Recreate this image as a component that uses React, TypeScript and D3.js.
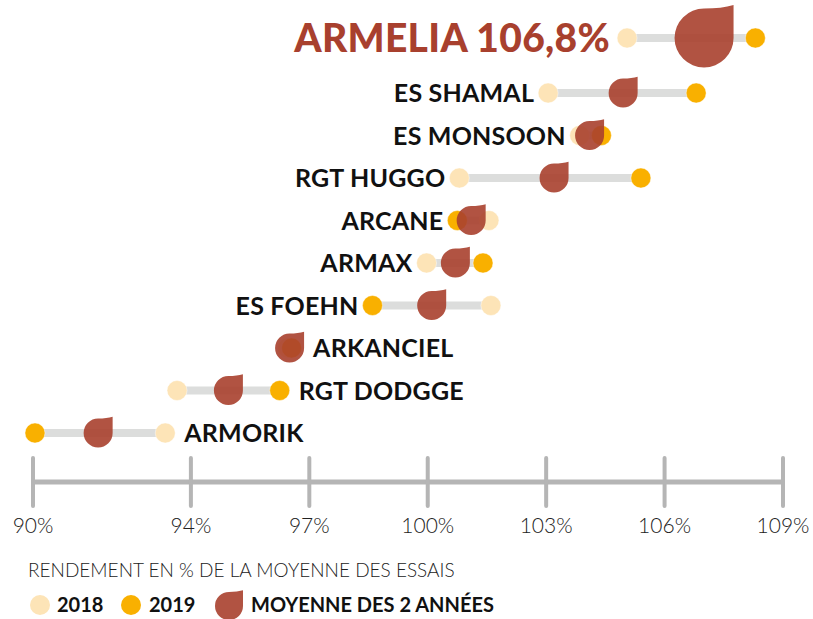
import React, { useEffect } from "react";
import * as d3 from "d3";

// varieties, top to bottom
const varieties = ["ARMELIA", "ES SHAMAL", "ES MONSOON", "RGT HUGGO", "ARCANE", "ARMAX", "ES FOEHN", "ARKANCIEL", "RGT DODGGE", "ARMORIK"];
const values2018 = [105.05, 103.05, 103.85, 100.8, 101.55, 99.97, 101.6, 96.45, 93.65, 93.35];
const values2019 = [108.3, 106.8, 104.4, 105.4, 100.75, 101.4, 98.6, 96.55, 96.25, 90.05];
const meanValues = [107.0, 104.95, 104.1, 103.2, 101.1, 100.7, 100.1, 96.5, 94.95, 91.65];
const labelRight = [false, false, false, false, false, false, false, true, true, true];
const highlightValue = "106,8%";
const tickValues = [90, 94, 97, 100, 103, 106, 109];

const W = 813;
const H = 619;
const C2018 = "#fde4b7";
const C2019 = "#f9b000";
const CMEAN = "#a8402e";
const FONT = "Lato, 'Open Sans', sans-serif";

// leaf / drop: round everywhere except the sharp top-right corner
const dropPath = (cx: number, cy: number, r: number) => {
  const p = d3.path();
  p.moveTo(cx - r, cy);
  p.arc(cx, cy, r, Math.PI, Math.PI * 1.5);
  p.quadraticCurveTo(cx + r * 0.6, cy - r, cx + r, cy - r * 1.12);
  p.lineTo(cx + r, cy);
  p.arc(cx, cy, r, 0, Math.PI);
  p.closePath();
  return p.toString();
};

export default function App() {
  useEffect(() => {
    document.body.style.margin = "0";
  }, []);

  const x = d3.scaleLinear().domain([90, 109]).range([33, 783]);
  const yRest = d3.scalePoint<string>().domain(varieties.slice(1)).range([93, 433]);
  const y = (name: string) => (name === varieties[0] ? 38 : (yRest(name) as number));

  const rows = varieties.map((name, i) => ({
    name,
    v18: values2018[i],
    v19: values2019[i],
    mean: meanValues[i],
    right: labelRight[i],
    top: i === 0,
  }));

  const axisY = 482;

  return (
    <svg width={W} height={H} style={{ display: "block", background: "#fff" }}>
      {rows.map((d) => {
        const cy = y(d.name);
        const r = d.top ? 29.5 : 14.5;
        const leftEdge = Math.min(x(d.v18) - 10, x(d.v19) - 10, x(d.mean) - r);
        const rightEdge = Math.max(x(d.v18) + 10, x(d.v19) + 10, x(d.mean) + r);
        return (
          <g key={d.name}>
            <line x1={x(Math.min(d.v18, d.v19))} x2={x(Math.max(d.v18, d.v19))} y1={cy} y2={cy}
              stroke="#dcdddc" strokeWidth={8} />
            <circle cx={x(d.v18)} cy={cy} r={10} fill={C2018} stroke="#fff" strokeOpacity={0.6} strokeWidth={0.7} />
            <circle cx={x(d.v19)} cy={cy} r={10} fill={C2019} stroke="#fff" strokeOpacity={0.6} strokeWidth={0.7} />
            <path d={dropPath(x(d.mean), cy, r)} fill={CMEAN} fillOpacity={0.9} />
            {d.top ? (
              <text x={leftEdge - 7} y={cy} dy="0.36em" textAnchor="end" fontFamily={FONT}
                fontWeight={900} fontSize={39} fill={CMEAN} letterSpacing={0.3}>
                {d.name} {highlightValue}
              </text>
            ) : (
              <text x={d.right ? rightEdge + 9 : leftEdge - 4} y={cy} dy="0.36em"
                textAnchor={d.right ? "start" : "end"} fontFamily={FONT} fontWeight={700}
                fontSize={25} fill="#111" letterSpacing={0.2}>
                {d.name}
              </text>
            )}
          </g>
        );
      })}

      {/* axis */}
      <line x1={x(90)} x2={x(109)} y1={axisY} y2={axisY} stroke="#b5b5b5" strokeWidth={5} />
      {tickValues.map((t) => (
        <g key={t}>
          <line x1={x(t)} x2={x(t)} y1={axisY - 24} y2={axisY + 24} stroke="#b5b5b5" strokeWidth={4} strokeLinecap="round" />
          <text x={x(t)} y={533} textAnchor="middle" fontFamily={FONT} fontWeight={300} fontSize={21} fill="#222">
            {t}%
          </text>
        </g>
      ))}

      {/* legend */}
      <text x={28} y={577} fontFamily={FONT} fontWeight={300} fontSize={19} fill="#222">
        RENDEMENT EN % DE LA MOYENNE DES ESSAIS
      </text>
      <circle cx={40} cy={605} r={10} fill={C2018} />
      <text x={57} y={605} dy="0.36em" fontFamily={FONT} fontWeight={700} fontSize={20} fill="#111">2018</text>
      <circle cx={131} cy={605} r={10} fill={C2019} />
      <text x={149} y={605} dy="0.36em" fontFamily={FONT} fontWeight={700} fontSize={20} fill="#111">2019</text>
      <path d={dropPath(229, 606, 14)} fill={CMEAN} fillOpacity={0.9} />
      <text x={251} y={605} dy="0.36em" fontFamily={FONT} fontWeight={700} fontSize={20} fill="#111">
        MOYENNE DES 2 ANNÉES
      </text>
    </svg>
  );
}
